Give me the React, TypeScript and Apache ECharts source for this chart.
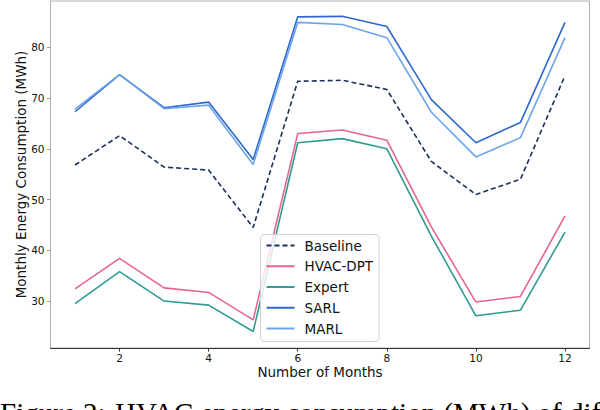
import * as echarts from 'echarts';
import { useEffect, useRef } from 'react';

const months = [1, 2, 3, 4, 5, 6, 7, 8, 9, 10, 11, 12];
const baseline = [56.8, 62.6, 56.4, 55.8, 44.5, 73.3, 73.5, 71.7, 57.5, 51.0, 54.0, 74.4];
const hvacDpt = [32.4, 38.4, 32.6, 31.7, 26.3, 63.0, 63.7, 61.7, 44.6, 29.8, 30.9, 46.8];
const expert = [29.5, 35.8, 30.0, 29.2, 24.0, 61.2, 62.0, 60.0, 42.8, 27.1, 28.2, 43.6];
const sarl = [67.3, 74.6, 68.1, 69.2, 57.9, 86.0, 86.1, 84.1, 69.7, 61.2, 65.2, 84.9];
const marl = [67.8, 74.6, 67.9, 68.6, 56.9, 84.9, 84.5, 81.9, 67.2, 58.4, 62.2, 81.9];

const xTicks = [2, 4, 6, 8, 10, 12];
const yTicks = [30, 40, 50, 60, 70, 80];

const font = '"DejaVu Sans", sans-serif';

function line(name: string, values: number[], color: string, dashed = false) {
  return {
    name,
    type: 'line',
    symbol: 'none',
    lineStyle: { color, width: 1.6, type: dashed ? [5, 3] : 'solid' },
    itemStyle: { color },
    data: values.map((v, i) => [months[i], v]),
  };
}

function buildOption() {
  return {
    animation: false,
    grid: {
      left: 50.5,
      right: 10.5,
      top: 1,
      bottom: 62,
      show: true,
      borderColor: '#b0b0b0',
      borderWidth: 1,
    },
    legend: {
      orient: 'vertical',
      left: 260.5,
      top: 234.5,
      padding: [4, 6, 6, 5],
      itemGap: 6.75,
      itemWidth: 28,
      itemHeight: 14,
      borderColor: '#d0d0d0',
      borderWidth: 1,
      borderRadius: 4,
      backgroundColor: 'rgba(255,255,255,0.8)',
      itemStyle: { opacity: 0 },
      textStyle: { fontFamily: font, fontSize: 13.5, color: '#111', padding: [0, 0, 0, 5] },
      data: ['Baseline', 'HVAC-DPT', 'Expert', 'SARL', 'MARL'],
    },
    xAxis: {
      type: 'value',
      min: 0.45,
      max: 12.55,
      name: 'Number of Months',
      nameLocation: 'middle',
      nameGap: 17,
      nameMoveOverlap: false,
      nameTextStyle: { fontFamily: font, fontSize: 13.5, color: '#111' },
      axisLine: { show: true, lineStyle: { color: '#333', width: 1 } },
      axisTick: { show: true, length: 3.5, customValues: xTicks, lineStyle: { color: '#333' } },
      axisLabel: { customValues: xTicks, margin: 4, fontFamily: font, fontSize: 10.5, color: '#111' },
      splitLine: { show: false },
    },
    yAxis: {
      type: 'value',
      min: 20.75,
      max: 89.12,
      name: 'Monthly Energy Consumption (MWh)',
      nameLocation: 'middle',
      nameGap: 23,
      nameMoveOverlap: false,
      nameTextStyle: { fontFamily: font, fontSize: 13.5, color: '#111' },
      axisLine: { show: true, lineStyle: { color: '#b0b0b0', width: 1 } },
      axisTick: { show: true, length: 3.5, customValues: yTicks, lineStyle: { color: '#999' } },
      axisLabel: { customValues: yTicks, margin: 6, fontFamily: font, fontSize: 10.5, color: '#111' },
      splitLine: { show: false },
    },
    series: [
      line('Baseline', baseline, '#1c2f5c', true),
      line('HVAC-DPT', hvacDpt, '#e8658e'),
      line('Expert', expert, '#2f9a96'),
      line('SARL', sarl, '#2d68cf'),
      line('MARL', marl, '#6ca4ec'),
    ],
    graphic: [
      {
        type: 'text',
        x: 0,
        y: 413,
        style: {
          text: 'Figure 2:',
          font: '29px "Liberation Serif", serif',
          fill: '#000',
          verticalAlign: 'middle',
        },
      },
      {
        type: 'text',
        x: 115,
        y: 413,
        style: {
          text: 'HVAC energy consumption (MWh) of different',
          font: '29px "Liberation Serif", serif',
          fill: '#000',
          verticalAlign: 'middle',
        },
      },
    ],
  };
}

export default function App() {
  const ref = useRef<HTMLDivElement | null>(null);

  useEffect(() => {
    if (!ref.current) return;
    const chart = echarts.init(ref.current, undefined, { renderer: 'svg' });
    chart.setOption(buildOption());
    return () => chart.dispose();
  }, []);

  return (
    <div
      ref={ref}
      style={{ position: 'absolute', left: 0, top: 0, width: 600, height: 410, background: '#fff' }}
    />
  );
}
